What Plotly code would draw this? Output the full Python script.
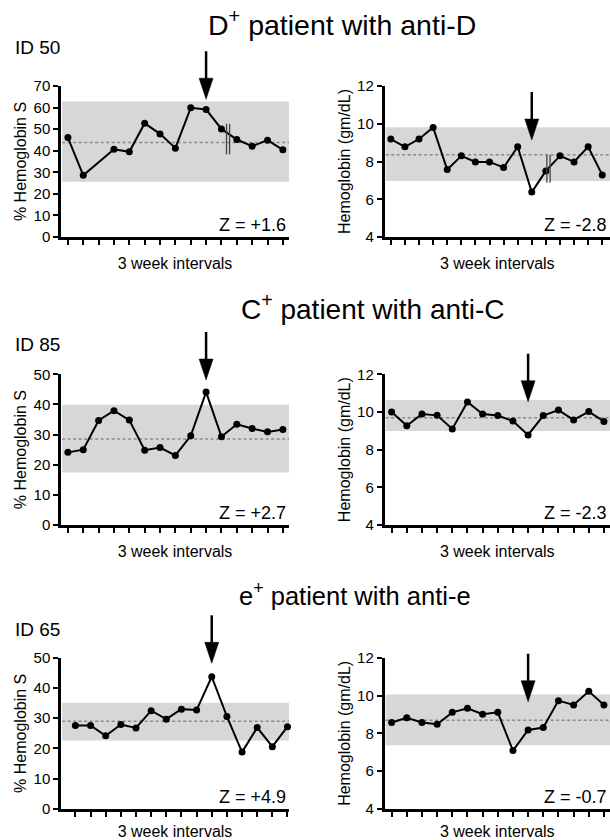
import plotly.graph_objects as go

# ---------------- data ----------------
# Row 1: ID 50, D+ patient with anti-D
id50_hbs = [46.1, 28.6, None, 40.7, 39.5, 52.7, 47.8, 41.2, 59.9, 59.1, 50.1, 45.2, 42.1, 44.9, 40.4]
id50_hb = [9.19, 8.78, 9.19, 9.80, 7.57, 8.30, 7.98, 7.98, 7.68, 8.78, 6.38, 7.50, 8.30, 7.98, 8.78, 7.29]
# Row 2: ID 85, C+ patient with anti-C
id85_hbs = [24.1, 25.0, 34.7, 37.9, 34.8, 24.8, 25.7, 23.1, 29.6, 44.1, 29.3, 33.4, 32.0, 30.9, 31.7]
id85_hb = [10.00, 9.27, 9.89, 9.82, 9.10, 10.53, 9.89, 9.81, 9.52, 8.78, 9.81, 10.10, 9.58, 10.02, 9.50]
# Row 3: ID 65, e+ patient with anti-e
id65_hbs = [27.6, 27.6, 24.2, 27.9, 26.8, 32.5, 29.7, 33.0, 32.7, 43.7, 30.6, 18.8, 26.9, 20.6, 27.2]
id65_hb = [8.57, 8.82, 8.57, 8.48, 9.11, 9.33, 9.01, 9.11, 7.09, 8.18, 8.31, 9.73, 9.50, 10.22, 9.50]

# reference ranges (low, high) and means
band_low = [25.6, 6.97, 17.4, 8.99, 22.6, 7.37]
band_high = [62.8, 9.81, 39.9, 10.64, 35.1, 10.05]
band_mean = [43.8, 8.36, 28.5, 9.70, 29.0, 8.69]
z_labels = ["Z = +1.6", "Z = -2.8", "Z = +2.7", "Z = -2.3", "Z = +4.9", "Z = -0.7"]
arrow_index = [9, 10, 9, 9, 9, 9]
# axis-break marks (x position of the double line, y extent)
break_x = {1: [10.33, 10.53], 2: [11.07, 11.30]}
break_y = {1: [38.3, 52.5], 2: [6.87, 8.35]}

row_titles = ["D<sup>+</sup> patient with anti-D", "C<sup>+</sup> patient with anti-C",
              "e<sup>+</sup> patient with anti-e"]
patient_ids = ["ID 50", "ID 85", "ID 65"]
hbs_ticks = [[0, 10, 20, 30, 40, 50, 60, 70], [0, 10, 20, 30, 40, 50], [0, 10, 20, 30, 40, 50]]
hb_ticks = [4, 6, 8, 10, 12]

series = [id50_hbs, id50_hb, id85_hbs, id85_hb, id65_hbs, id65_hb]

# ---------------- layout geometry (pixels) ----------------
W, H = 610, 840
FONT = "Arial, Liberation Sans, Helvetica, sans-serif"
left_x = (61, 289)
right_x = (384.5, 610)
rows_y = [(86, 237), (374.3, 525), (657.7, 809)]  # top, bottom
x_ranges = [[-0.45, 14.4], [-0.45, 15.55], [-0.45, 14.4], [-0.47, 14.4], [-0.95, 14.1], [-0.47, 14.4]]
y_ranges = [[0, 70], [4, 12], [0, 50], [4, 12], [0, 50], [4, 12]]
arrow_tip = [0.9125, 0.642, 0.962, 0.818, 0.963, 0.709]  # fraction of y-axis domain
row_title_x = [341.5, 373, 355]
row_title_y = [36, 320, 605]   # baseline-ish pixel
row_title_size = [28.5, 28, 25.5]
id_label_y = [47, 344.5, 629]

def fx(px):
    return px / W

def fy(px):
    return 1 - px / H

fig = go.Figure()
layout = dict(
    width=W, height=H, margin=dict(l=0, r=0, t=0, b=0),
    paper_bgcolor="white", plot_bgcolor="white", template="none",
    showlegend=False, font=dict(family=FONT, color="black"),
)
shapes = []
annotations = []

for i in range(6):
    n = i + 1
    row = i // 2
    is_left = (i % 2 == 0)
    xs = "" if n == 1 else str(n)
    xname, yname = "x" + xs, "y" + xs
    vals = series[i]
    fig.add_trace(go.Scatter(
        x=list(range(len(vals))), y=vals, mode="lines+markers",
        connectgaps=True, xaxis=xname, yaxis=yname,
        line=dict(color="black", width=2),
        marker=dict(color="black", size=7),
        cliponaxis=False,
    ))
    xd = left_x if is_left else right_x
    top, bottom = rows_y[row]
    layout["xaxis" + xs] = dict(
        domain=[fx(xd[0]), fx(xd[1])], anchor=yname, range=x_ranges[i],
        showline=True, linecolor="black", linewidth=2.5,
        ticks="outside", ticklen=5, tickwidth=2, tickcolor="black",
        tickvals=list(range(len(vals))), showticklabels=False,
        showgrid=False, zeroline=False, automargin=False,
        title=dict(text="3 week intervals", font=dict(size=16, family=FONT), standoff=15),
    )
    layout["yaxis" + xs] = dict(
        domain=[fy(bottom), fy(top)], anchor=xname, range=y_ranges[i],
        showline=True, linecolor="black", linewidth=2.5,
        ticks="outside", ticklen=5, tickwidth=2, tickcolor="black",
        tickvals=hbs_ticks[row] if is_left else hb_ticks,
        tickfont=dict(size=15, family=FONT),
        showgrid=False, zeroline=False, automargin=False,
        title=dict(text="% Hemoglobin S" if is_left else "Hemoglobin (gm/dL)",
                   font=dict(size=16, family=FONT), standoff=3),
    )
    # reference band and mean line
    shapes.append(dict(type="rect", xref=xname + " domain", yref=yname,
                       x0=0.005, x1=1, y0=band_low[i], y1=band_high[i],
                       fillcolor="#d7d7d7", line=dict(width=0), layer="below"))
    shapes.append(dict(type="line", xref=xname + " domain", yref=yname,
                       x0=0.005, x1=1, y0=band_mean[i], y1=band_mean[i],
                       line=dict(color="#8a8a8a", width=1.5, dash="3px,2.5px"), layer="below"))
    # axis break marks
    if n in break_x:
        for bx in break_x[n]:
            shapes.append(dict(type="line", xref=xname, yref=yname,
                               x0=bx, x1=bx, y0=break_y[n][0], y1=break_y[n][1],
                               line=dict(color="#444444", width=1.3)))
    # arrow: shaft + head (pixel-sized, anchored to the data index)
    shapes.append(dict(type="line", xref=xname, yref=yname + " domain",
                       x0=arrow_index[i], x1=arrow_index[i],
                       ysizemode="pixel", yanchor=arrow_tip[i], y0=18, y1=48,
                       line=dict(color="black", width=2.5)))
    shapes.append(dict(type="path", xref=xname, yref=yname + " domain",
                       xsizemode="pixel", xanchor=arrow_index[i],
                       ysizemode="pixel", yanchor=arrow_tip[i],
                       path="M-7,21 L7,21 L0,0 Z",
                       fillcolor="black", line=dict(color="black", width=0.5)))
    # Z label
    annotations.append(dict(text=z_labels[i], xref=xname + " domain", yref=yname + " domain",
                            x=1, y=0, xanchor="right", yanchor="bottom", xshift=-1, yshift=0,
                            showarrow=False, font=dict(size=18, family=FONT)))

for r in range(3):
    annotations.append(dict(text=row_titles[r], xref="paper", yref="paper",
                            x=fx(row_title_x[r]), y=fy(row_title_y[r]), xanchor="center",
                            yanchor="bottom", yshift=-7, showarrow=False,
                            font=dict(size=row_title_size[r], family=FONT)))
    annotations.append(dict(text=patient_ids[r], xref="paper", yref="paper",
                            x=fx(13), y=fy(id_label_y[r]), xanchor="left", yanchor="middle",
                            showarrow=False, font=dict(size=19, family=FONT)))

layout["shapes"] = shapes
layout["annotations"] = annotations
fig.update_layout(**layout)
fig.write_html("out.html")
